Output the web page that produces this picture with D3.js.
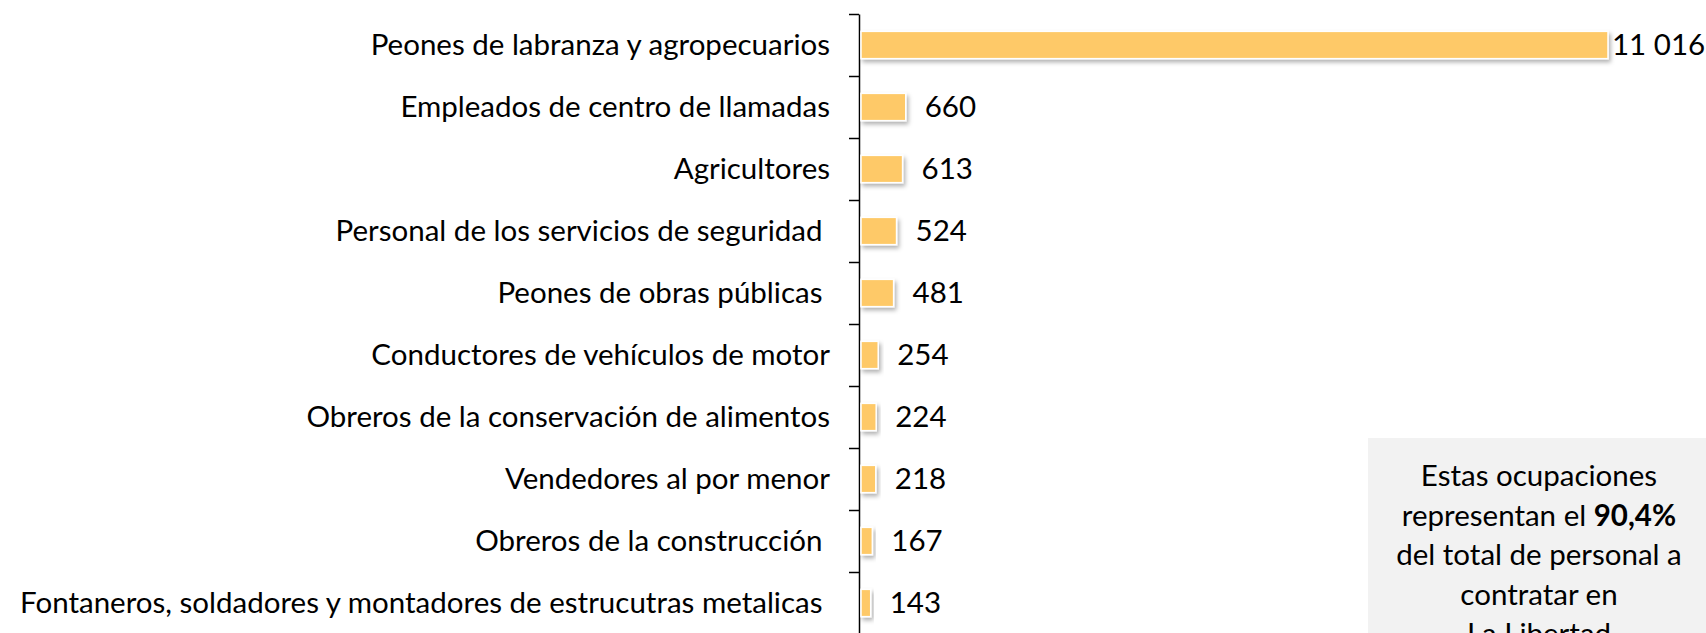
<!DOCTYPE html>
<html>
<head>
<meta charset="utf-8">
<script src="https://cdn.jsdelivr.net/npm/d3@7/dist/d3.min.js"></script>
<style>
  html, body { margin: 0; padding: 0; background: #fff; overflow: hidden; }
  text { font-family: Lato, "Open Sans", sans-serif; fill: #000; }
</style>
</head>
<body>
<div id="chart"></div>
<script>
(function() {
	var width = 1706,
		height = 633;

	// ocupaciones (con los espacios del original)
	var categorias = [
		"Peones de labranza y agropecuarios",
		"Empleados de centro de llamadas",
		"Agricultores",
		"Personal de los servicios de seguridad ",
		"Peones de obras públicas ",
		"Conductores de vehículos de motor",
		"Obreros de la conservación de alimentos",
		"Vendedores al por menor",
		"Obreros de la construcción ",
		"Fontaneros, soldadores y montadores de estrucutras metalicas "
	];
	var valores = [11016, 660, 613, 524, 481, 254, 224, 218, 167, 143];
	var etiquetas = ["11 016", "660", "613", "524", "481", "254", "224", "218", "167", "143"];

	// texto del recuadro
	var notaLineas = [
		[{t: "Estas ocupaciones", b: false}],
		[{t: "representan el ", b: false}, {t: "90,4%", b: true}],
		[{t: "del total de personal a", b: false}],
		[{t: "contratar en", b: false}],
		[{t: "La Libertad", b: false}]
	];

	var fs = "29.5px";

	var svg = d3.select("#chart")
		.append("svg")
		.attr("width", width)
		.attr("height", height);

	var defs = svg.append("defs");
	var filtro = defs.append("filter")
		.attr("id", "sombra")
		.attr("x", "-20%").attr("y", "-40%")
		.attr("width", "150%").attr("height", "200%");
	filtro.append("feDropShadow")
		.attr("dx", 2)
		.attr("dy", 3)
		.attr("stdDeviation", 2)
		.attr("flood-color", "#000")
		.attr("flood-opacity", 0.3);

	var top = 14, bottom = 634;

	var y = d3.scaleBand()
		.domain(categorias)
		.range([top, bottom])
		.paddingInner(0.56)
		.paddingOuter(0.28);

	var x = d3.scaleLinear()
		.domain([0, 11016])
		.range([861, 1608]);

	// recuadro gris
	var nota = svg.append("g");
	nota.append("rect")
		.attr("x", 1368)
		.attr("y", 438)
		.attr("width", 345)
		.attr("height", 260)
		.attr("fill", "#f2f2f2");

	nota.selectAll("text")
		.data(notaLineas)
		.enter().append("text")
		.attr("x", 1539)
		.attr("y", function(d, i) { return 486 + i * 39.5; })
		.attr("text-anchor", "middle")
		.style("font-size", fs)
		.each(function(d) {
			var t = d3.select(this);
			d.forEach(function(p) {
				t.append("tspan")
					.attr("font-weight", p.b ? "bold" : null)
					.text(p.t);
			});
		});

	// eje con marcas entre categorias
	var idx = d3.scaleLinear()
		.domain([0, categorias.length])
		.range([top, bottom]);

	var eje = svg.append("g")
		.attr("transform", "translate(859,0)")
		.call(d3.axisLeft(idx)
			.tickValues(d3.range(0, categorias.length + 1))
			.tickFormat("")
			.tickSize(10)
			.tickSizeOuter(0));
	eje.select(".domain").attr("stroke", "#000").attr("stroke-width", 1.5);
	eje.selectAll(".tick line").attr("stroke", "#000").attr("stroke-width", 1.5);

	// barras
	svg.selectAll(".barra")
		.data(valores)
		.enter().append("rect")
		.attr("class", "barra")
		.attr("x", x(0))
		.attr("y", function(d, i) { return y(categorias[i]); })
		.attr("width", function(d) { return x(d) - x(0); })
		.attr("height", y.bandwidth())
		.attr("fill", "#fec967")
		.attr("stroke", "#fff")
		.attr("stroke-width", 1.5)
		.attr("filter", "url(#sombra)");

	// nombres
	svg.selectAll(".cat")
		.data(categorias)
		.enter().append("text")
		.attr("class", "cat")
		.attr("x", 830)
		.attr("y", function(d) { return y(d) + y.bandwidth() / 2; })
		.attr("dy", "0.33em")
		.attr("text-anchor", "end")
		.attr("xml:space", "preserve")
		.style("white-space", "pre")
		.style("font-size", fs)
		.text(function(d) { return d; });

	// valores (el mayor va pegado a la barra, como en el original)
	svg.selectAll(".val")
		.data(valores)
		.enter().append("text")
		.attr("class", "val")
		.attr("y", function(d, i) { return y(categorias[i]) + y.bandwidth() / 2; })
		.attr("dy", "0.33em")
		.style("font-size", fs)
		.text(function(d, i) { return etiquetas[i]; })
		.attr("x", function(d) {
			var w = this.getComputedTextLength();
			var px = x(d) + 19;
			if (px + w > width - 4) px = x(d) + 4;
			return px;
		});

}) ();
</script>
</body>
</html>
